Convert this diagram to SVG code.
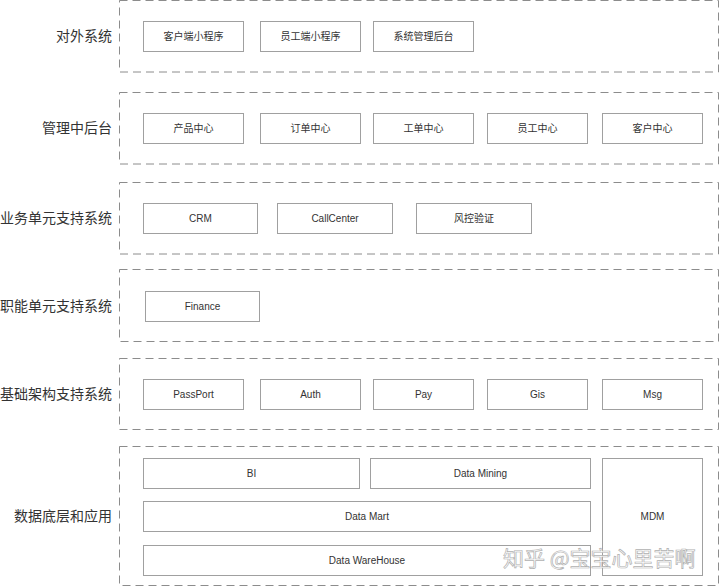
<svg xmlns="http://www.w3.org/2000/svg" width="720" height="587" viewBox="0 0 720 587">
<style>
.layer{fill:none;stroke:#8c8c8c;stroke-width:1;stroke-dasharray:8 5}
.box{fill:#fff;stroke:#a0a0a0;stroke-width:1}
.lbl{font-family:"Liberation Sans","Noto Sans CJK SC",sans-serif;font-size:14px;fill:#333;text-anchor:end}
.t{font-family:"Liberation Sans","Noto Sans CJK SC",sans-serif;font-size:10px;fill:#333;text-anchor:middle}
.wm{font-family:"Noto Sans CJK SC",sans-serif;font-size:21px;fill:#fff;fill-opacity:0.85;stroke:#b0b0b0;stroke-width:0.7}
</style>
<rect width="720" height="587" fill="#fff"/>
<g id="layers">
<g id="layer1"><rect class="layer" x="119.5" y="0.5" width="599" height="71.5"/><text class="lbl" x="112" y="41">对外系统</text></g>
<g id="layer2"><rect class="layer" x="119.5" y="92.5" width="599" height="71.5"/><text class="lbl" x="112" y="133">管理中后台</text></g>
<g id="layer3"><rect class="layer" x="119.5" y="182.5" width="599" height="71.5"/><text class="lbl" x="112" y="223">业务单元支持系统</text></g>
<g id="layer4"><rect class="layer" x="119.5" y="269.5" width="599" height="72"/><text class="lbl" x="112" y="311">职能单元支持系统</text></g>
<g id="layer5"><rect class="layer" x="119.5" y="358.5" width="599" height="71"/><text class="lbl" x="112" y="399">基础架构支持系统</text></g>
<g id="layer6"><rect class="layer" x="119.5" y="446.5" width="599" height="139"/><text class="lbl" x="112" y="521">数据底层和应用</text></g>
</g>
<g id="nodes">
<g id="n1"><rect class="box" x="143.5" y="21.5" width="100" height="30"/><text class="t" x="193.5" y="40">客户端小程序</text></g>
<g id="n2"><rect class="box" x="260.5" y="21.5" width="100" height="30"/><text class="t" x="310.5" y="40">员工端小程序</text></g>
<g id="n3"><rect class="box" x="373.5" y="21.5" width="100" height="30"/><text class="t" x="423.5" y="40">系统管理后台</text></g>

<g id="n4"><rect class="box" x="143.5" y="113.5" width="100" height="30"/><text class="t" x="193.5" y="132">产品中心</text></g>
<g id="n5"><rect class="box" x="260.5" y="113.5" width="100" height="30"/><text class="t" x="310.5" y="132">订单中心</text></g>
<g id="n6"><rect class="box" x="373.5" y="113.5" width="100" height="30"/><text class="t" x="423.5" y="132">工单中心</text></g>
<g id="n7"><rect class="box" x="487.5" y="113.5" width="100" height="30"/><text class="t" x="537.5" y="132">员工中心</text></g>
<g id="n8"><rect class="box" x="602.5" y="113.5" width="100" height="30"/><text class="t" x="652.5" y="132">客户中心</text></g>

<g id="n9"><rect class="box" x="143.5" y="203.5" width="114" height="30"/><text class="t" x="200.5" y="222">CRM</text></g>
<g id="n10"><rect class="box" x="277.5" y="203.5" width="115" height="30"/><text class="t" x="335" y="222">CallCenter</text></g>
<g id="n11"><rect class="box" x="416.5" y="203.5" width="115" height="30"/><text class="t" x="474" y="222">风控验证</text></g>

<g id="n12"><rect class="box" x="145.5" y="291.5" width="114" height="30"/><text class="t" x="202.5" y="310">Finance</text></g>

<g id="n13"><rect class="box" x="143.5" y="379.5" width="100" height="30"/><text class="t" x="193.5" y="398">PassPort</text></g>
<g id="n14"><rect class="box" x="260.5" y="379.5" width="100" height="30"/><text class="t" x="310.5" y="398">Auth</text></g>
<g id="n15"><rect class="box" x="373.5" y="379.5" width="100" height="30"/><text class="t" x="423.5" y="398">Pay</text></g>
<g id="n16"><rect class="box" x="487.5" y="379.5" width="100" height="30"/><text class="t" x="537.5" y="398">Gis</text></g>
<g id="n17"><rect class="box" x="602.5" y="379.5" width="100" height="30"/><text class="t" x="652.5" y="398">Msg</text></g>

<g id="n18"><rect class="box" x="143.5" y="458.5" width="216" height="30"/><text class="t" x="251.5" y="477">BI</text></g>
<g id="n19"><rect class="box" x="370.5" y="458.5" width="220" height="30"/><text class="t" x="480.5" y="477">Data Mining</text></g>
<g id="n20"><rect class="box" x="143.5" y="501.5" width="447" height="30"/><text class="t" x="367" y="520">Data Mart</text></g>
<g id="n21"><rect class="box" x="143.5" y="545.5" width="447" height="30"/><text class="t" x="367" y="564">Data WareHouse</text></g>
<g id="n22"><rect class="box" x="602.5" y="458.5" width="100" height="117"/><text class="t" x="652.5" y="520">MDM</text></g>
</g>
<g id="connectors"></g>
<text class="wm" x="503" y="566">知乎 @宝宝心里苦啊</text>
</svg>
